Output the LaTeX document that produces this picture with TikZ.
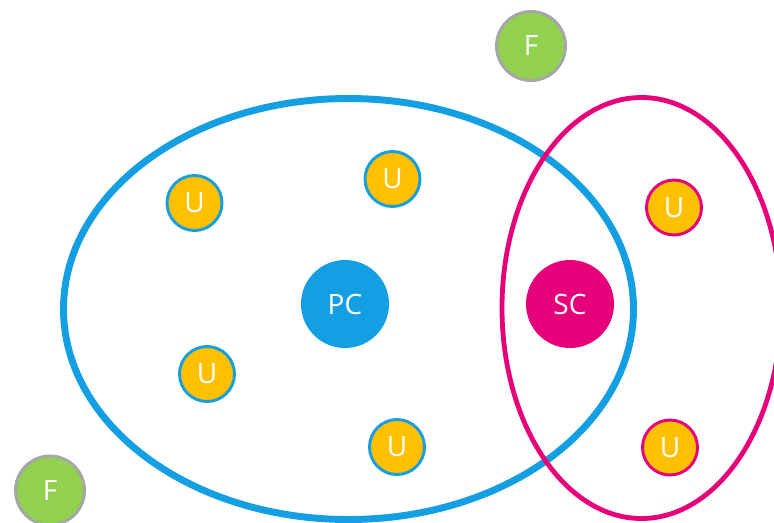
\documentclass[tikz,border=0pt]{standalone}
\usepackage{fontspec}
\setmainfont{Open Sans}
\usetikzlibrary{shapes.geometric}
\definecolor{blueC}{HTML}{149FE3}
\definecolor{pinkC}{HTML}{E6007A}
\definecolor{amberC}{HTML}{FFC000}
\definecolor{greenC}{HTML}{92D050}
\definecolor{greyC}{HTML}{A6A6A6}
\tikzset{
 x=0.75pt,y=-0.75pt,
 basenode/.style={circle,inner sep=0pt,text=white,font=\fontsize{21}{23}\selectfont},
 unode/.style={basenode,minimum size=55*0.75pt,fill=amberC,line width=2.2pt},
 ublue/.style={unode,draw=blueC},
 upink/.style={unode,draw=pinkC},
 fnode/.style={basenode,minimum size=69*0.75pt,fill=greenC,draw=greyC,line width=2.2pt},
 hub/.style={basenode,minimum size=88*0.75pt},
 blueset/.style={ellipse,draw=blueC,line width=5.2pt,minimum width=570*0.75pt,minimum height=421*0.75pt,inner sep=0pt},
 pinkset/.style={ellipse,draw=pinkC,line width=3.6pt,minimum width=279*0.75pt,minimum height=421*0.75pt,inner sep=0pt},
}
\begin{document}
\begin{tikzpicture}
\useasboundingbox (0,0) rectangle (774,522);
\node[blueset] (setPC) at (348.5,309) {};
\node[pinkset] (setSC) at (641.5,308) {};
\node[hub,fill=blueC] (PC) at (345,304) {PC};
\node[hub,fill=pinkC] (SC) at (570,304) {SC};
\node[ublue] (u1) at (194.5,203) {U};
\node[ublue] (u2) at (392.5,179) {U};
\node[ublue] (u3) at (207,374) {U};
\node[ublue] (u4) at (397,447) {U};
\node[upink] (u5) at (674,207.5) {U};
\node[upink] (u6) at (670,447.5) {U};
\node[fnode] (f1) at (531,46) {F};
\node[fnode] (f2) at (50,490.5) {F};
\end{tikzpicture}
\end{document}
